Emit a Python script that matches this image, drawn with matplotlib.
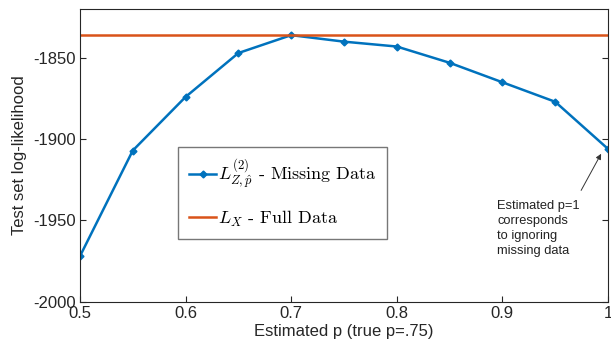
import numpy as np
import matplotlib.pyplot as plt

# data
p_est = [0.5, 0.55, 0.6, 0.65, 0.7, 0.75, 0.8, 0.85, 0.9, 0.95, 1.0]
loglik_missing = [-1972, -1907, -1874, -1847, -1836, -1840, -1843, -1853, -1865, -1877, -1906]
loglik_full = -1836
xticks = [0.5, 0.6, 0.7, 0.8, 0.9, 1.0]
xtick_labels = ['0.5', '0.6', '0.7', '0.8', '0.9', '1']
yticks = [-2000, -1950, -1900, -1850]

plt.rcParams['font.family'] = ['Liberation Sans', 'DejaVu Sans']
plt.rcParams['mathtext.fontset'] = 'cm'
plt.rcParams['axes.unicode_minus'] = False

fig = plt.figure(figsize=(6.11, 3.52), dpi=100)
ax = fig.add_axes([0.1309, 0.143, 0.8642, 0.831])

blue = '#0072BD'
orange = '#D95319'

ax.plot(p_est, loglik_missing, color=blue, lw=1.8, marker='D', ms=3.5,
        label=r'$L^{(2)}_{Z,\hat{p}}$ - Missing Data')
ax.axhline(loglik_full, color=orange, lw=1.8, label=r'$L_X$ - Full Data')

ax.set_xlim(0.5, 1.0)
ax.set_ylim(-2000, -1820)
ax.set_xticks(xticks)
ax.set_xticklabels(xtick_labels)
ax.set_yticks(yticks)
ax.tick_params(direction='in', length=4, labelsize=12, colors='#262626',
               right=True, top=False, pad=3)
for s in ax.spines.values():
    s.set_color('#262626')
    s.set_linewidth(0.8)

ax.set_xlabel('Estimated p (true p=.75)', fontsize=12, color='#262626', labelpad=2)
ax.set_ylabel('Test set log-likelihood', fontsize=12, color='#262626')
ax.yaxis.set_label_coords(-0.100, 0.5)

leg = ax.legend(loc='upper left', bbox_to_anchor=(0.186, 0.53),
                prop={'family': 'cmr10', 'size': 13}, frameon=True, fancybox=False,
                edgecolor='#555555', handlelength=1.5, handletextpad=0.1,
                labelspacing=1.0, borderpad=0.6, borderaxespad=0)
leg.get_frame().set_linewidth(1.0)

ax.annotate('Estimated p=1\ncorresponds\nto ignoring\nmissing data',
            xy=(0.996, -1906), xytext=(0.895, -1955),
            fontsize=9.3, color='#222222', ha='left', va='center', linespacing=1.3,
            arrowprops=dict(arrowstyle='-|>', color='#333333', lw=0.7,
                            relpos=(0.95, 1.0), shrinkA=6, shrinkB=4,
                            mutation_scale=8))

fig.savefig('out.png', dpi=100)
